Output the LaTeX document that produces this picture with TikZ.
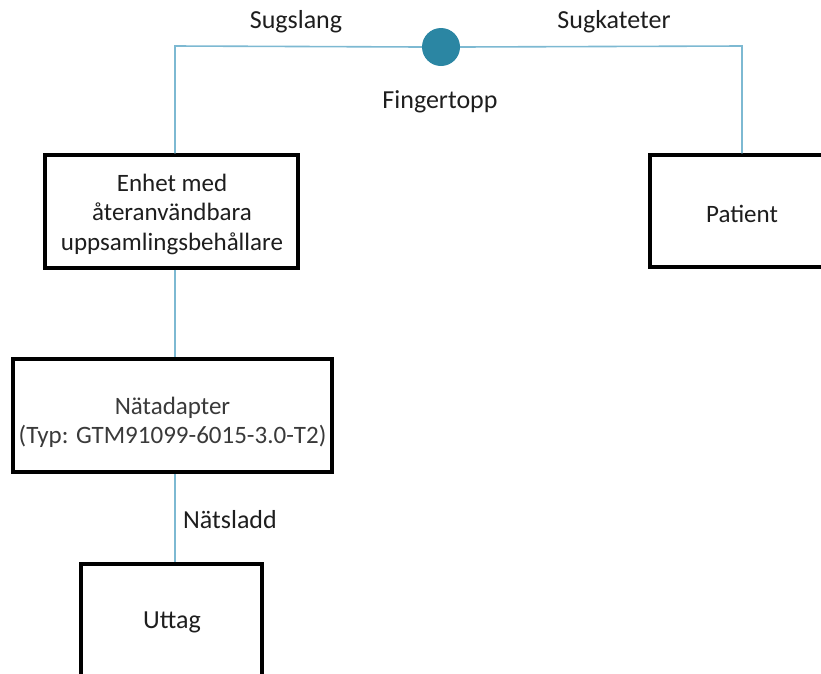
\documentclass[tikz,border=0pt]{standalone}
\usepackage{fontspec}
\setmainfont{Carlito}
\definecolor{wire}{HTML}{7DB9D2}
\definecolor{dot}{HTML}{2B86A3}
\definecolor{txt}{HTML}{1E1E1E}
\definecolor{gtxt}{HTML}{3A3A3A}
\begin{document}
\begin{tikzpicture}[x=1pt,y=-1pt,
  box/.style={draw=black,line width=3.5pt,fill=white,inner sep=0pt},
  wireline/.style={draw=wire,line width=1.6pt},
  lbl/.style={font=\fontsize{26}{30}\selectfont,text=txt,align=center}]
\useasboundingbox (0,0) rectangle (821,673);
\coordinate (L) at (175,46);
\coordinate (R) at (742,46);
\node[circle,fill=dot,minimum size=38pt,inner sep=0pt] (fp) at (441,47) {};
% boxes
\node[box,minimum width=253pt,minimum height=113pt] (enh) at (171.5,211.5) {};
\node[font=\fontsize{25}{29.5}\selectfont,text=txt,align=center] (enhtxt) at (172,214) {Enhet med\\återanvändbara\\uppsamlingsbehållare};
\node[box,minimum width=200pt,minimum height=112pt] (pat) at (750,211) {};
\node[font=\fontsize{25}{28}\selectfont,text=txt] (pattxt) at (742,214) {Patient};
\node[box,minimum width=319pt,minimum height=113pt] (nat) at (172.5,415.5) {};
\node[font=\fontsize{25}{29}\selectfont,text=gtxt,align=center] (nattxt) at (172.5,422) {Nätadapter\\(Typ: GTM91099-6015-3.0-T2)};
\node[box,minimum width=181pt,minimum height=140pt] (utt) at (171.5,634) {};
\node[font=\fontsize{26}{28}\selectfont,text=txt] (utttxt) at (172,622) {Uttag};
% connectors
\draw[wireline] (enh.north -| L) -- (L) -- (fp.west);
\draw[wireline] (fp.east) -- (R) -- (R |- pat.north);
\draw[wireline] (enh.south -| L) -- (nat.north -| L);
\draw[wireline] (nat.south -| L) -- (utt.north -| L);
% labels
\node[lbl] (sugslang) at (296,22) {Sugslang};
\node[lbl] (sugkat) at (614,22) {Sugkateter};
\node[lbl] (finger) at (440,102) {Fingertopp};
\node[lbl] (natsladd) at (230,520) {Nätsladd};
\end{tikzpicture}
\end{document}
